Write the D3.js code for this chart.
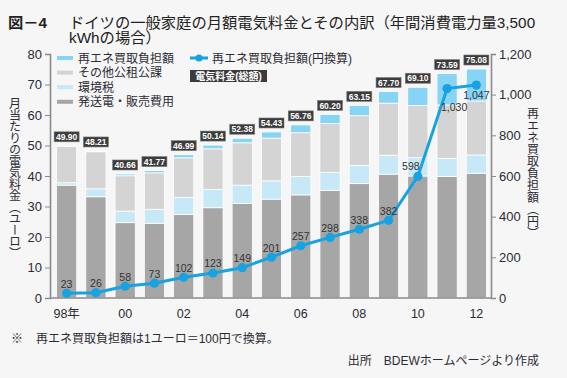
<!DOCTYPE html>
<html><head><meta charset="utf-8">
<script src="https://cdn.jsdelivr.net/npm/d3@7"></script>
<style>
html,body{margin:0;padding:0;background:#f6f6f6;}
svg{display:block;}
text{font-family:"Liberation Sans","Noto Sans CJK JP",sans-serif;}
</style>
</head><body>
<svg id="chart" width="567" height="378"></svg>
<script>
// ---------------- data ----------------
const years = ["98","99","00","01","02","03","04","05","06","07","08","09","10","11","12"];
const xTickLabels = {"98":"98年","00":"00","02":"02","04":"04","06":"06","08":"08","10":"10","12":"12"};
const totals = [49.90,48.21,40.66,41.77,46.99,50.14,52.38,54.43,56.76,60.20,63.15,67.70,69.10,73.59,75.08];
const generation = [37.0,33.2,24.7,24.5,27.4,29.6,31.0,32.4,33.8,35.3,37.5,40.6,40.0,39.8,40.9];
const envTax = [0.8,2.6,3.8,4.6,5.6,6.0,6.0,6.0,6.0,5.9,6.0,6.2,6.0,6.0,6.0];
const otherLevies = [11.87,12.15,11.58,11.94,12.97,13.31,13.89,14.02,14.39,16.02,16.27,17.08,17.12,17.49,17.71];
const eegEuro = [0.23,0.26,0.58,0.73,1.02,1.23,1.49,2.01,2.57,2.98,3.38,3.82,5.98,10.30,10.47];
const eegYen = [23,26,58,73,102,123,149,201,257,298,338,382,598,1030,1047];
const leftTicks = [0,10,20,30,40,50,60,70,80];
const rightTicks = [0,200,400,600,800,1000,1200];
const seriesNames = {eeg:"再エネ買取負担額", other:"その他公租公課", env:"環境税", gen:"発送電・販売費用"};
const lineName = "再エネ買取負担額(円換算)";
const totalBadge = "電気料金(総額)";
const titleLine1 = "ドイツの一般家庭の月額電気料金とその内訳（年間消費電力量3,500";
const titleLine2 = "kWhの場合）";
const figNo = "図－4";
const leftTitle = "月当たりの電気料金（ユーロ）";
const rightTitle = "再エネ買取負担額（円）";
const note = "再エネ買取負担額は1ユーロ＝100円で換算。";
const source = "出所　BDEWホームページより作成";

// ---------------- setup ----------------
const colors = {gen:"#a6a6a6", env:"#c6e8f7", other:"#d4d4d4", eeg:"#88d4f5"};
const lineColor = "#17a2e2";
const textColor = "#2b2b33";
const svg = d3.select("#chart");
svg.append("rect").attr("width",567).attr("height",378).attr("fill","#f6f6f6");

const x = d3.scaleBand().domain(years).range([52,491]).paddingInner(0.31).paddingOuter(0.155);
const yL = d3.scaleLinear().domain([0,80]).range([298,54]);
const yR = d3.scaleLinear().domain([0,1200]).range([298,54]);

const rows = years.map((yr,i)=>({year:yr, gen:generation[i], env:envTax[i], other:otherLevies[i], eeg:eegEuro[i], total:totals[i], yen:eegYen[i]}));
const keys = ["gen","env","other","eeg"];
const stacked = d3.stack().keys(keys)(rows);

// bars
const g = svg.append("g");
stacked.forEach(layer=>{
  g.selectAll(null).data(layer).enter().append("rect")
    .attr("x", d=>x(d.data.year))
    .attr("width", x.bandwidth())
    .attr("y", d=>yL(d[1]))
    .attr("height", d=>Math.max(0, yL(d[0])-yL(d[1])))
    .attr("fill", colors[layer.key])
    .attr("stroke","#ffffff").attr("stroke-width",0.8);
});

// total badges
const badgeW = 25, badgeH = 10;
const badges = svg.append("g").selectAll(null).data(rows).enter().append("g")
  .attr("transform", d=>`translate(${x(d.year)+x.bandwidth()/2},${yL(d.total)-4})`);
badges.append("rect").attr("x",-badgeW/2).attr("y",-badgeH).attr("width",badgeW).attr("height",badgeH)
  .attr("fill","#3c3c3c").attr("stroke","#7a7a7a").attr("stroke-width",0.6);
badges.append("text").attr("text-anchor","middle").attr("y",-1.8)
  .attr("font-size",8.5).attr("font-weight","bold").attr("fill","#ffffff")
  .text(d=>d.total.toFixed(2));

// axes
const axL = svg.append("g").attr("transform","translate(50,0)")
  .call(d3.axisLeft(yL).tickValues(leftTicks).tickSize(5).tickPadding(3));
const axR = svg.append("g").attr("transform","translate(491,0)")
  .call(d3.axisRight(yR).tickValues(rightTicks).tickSize(5).tickPadding(3).tickFormat(d3.format(",")));
[axL,axR].forEach(a=>{
  a.select(".domain").attr("stroke","#8a8a8a").attr("stroke-width",1.6);
  a.selectAll(".tick line").attr("stroke","#8a8a8a").attr("stroke-width",1);
  a.selectAll(".tick text").attr("font-size",13).attr("fill",textColor);
});
svg.append("line").attr("x1",50).attr("x2",491).attr("y1",298).attr("y2",298)
  .attr("stroke","#8a8a8a").attr("stroke-width",1.4);
const axB = svg.append("g").attr("transform","translate(0,298)")
  .call(d3.axisBottom(x).tickValues(Object.keys(xTickLabels)).tickSize(0).tickPadding(11).tickFormat(d=>xTickLabels[d]));
axB.select(".domain").remove();
axB.selectAll(".tick text").attr("font-size",12.5).attr("fill",textColor);

// line
const lx = d=>x(d.year)+x.bandwidth()/2;
svg.append("path").datum(rows)
  .attr("d", d3.line().x(lx).y(d=>yR(d.yen)))
  .attr("fill","none").attr("stroke",lineColor).attr("stroke-width",3);
svg.append("g").selectAll(null).data(rows).enter().append("circle")
  .attr("cx",lx).attr("cy",d=>yR(d.yen)).attr("r",4.6).attr("fill",lineColor);
const labelOffset = {"10":[-7,-6],"11":[7,22],"12":[0,14]};
svg.append("g").selectAll(null).data(rows).enter().append("text")
  .attr("x",d=>lx(d)+(labelOffset[d.year]?labelOffset[d.year][0]:0))
  .attr("y",d=>yR(d.yen)+(labelOffset[d.year]?labelOffset[d.year][1]:-5.5))
  .attr("text-anchor","middle").attr("font-size",10.5).attr("fill","#333")
  .text(d=>d3.format(",")(d.yen));

// legend
const legend = svg.append("g");
const legItems = ["eeg","other","env","gen"];
legItems.forEach((k,i)=>{
  const yy = 58 + i*14.6;
  legend.append("rect").attr("x",57).attr("y",yy-2).attr("width",16).attr("height",4).attr("fill",colors[k]);
  legend.append("text").attr("x",78).attr("y",yy+4.5).attr("font-size",12).attr("fill",textColor).text(seriesNames[k]);
});
legend.append("line").attr("x1",190).attr("x2",208).attr("y1",58).attr("y2",58).attr("stroke",lineColor).attr("stroke-width",3);
legend.append("circle").attr("cx",199).attr("cy",58).attr("r",3.6).attr("fill",lineColor);
legend.append("text").attr("x",212).attr("y",62.5).attr("font-size",12).attr("fill",textColor).text(lineName);
legend.append("rect").attr("x",190).attr("y",70).attr("width",77).attr("height",12).attr("fill","#3c3c3c");
legend.append("text").attr("x",228.5).attr("y",79.5).attr("text-anchor","middle").attr("font-size",10)
  .attr("font-weight","bold").attr("fill","#fff").text(totalBadge);

// axis titles (vertical)
svg.append("text").attr("x",15).attr("y",178).attr("text-anchor","middle")
  .style("writing-mode","vertical-rl").style("font-size","12px").attr("fill",textColor)
  .style("font-family","'Noto Sans CJK JP', sans-serif").style("letter-spacing","-0.5px").text(leftTitle);
svg.append("text").attr("x",533).attr("y",173).attr("text-anchor","middle")
  .style("writing-mode","vertical-rl").style("font-size","12px").attr("fill",textColor)
  .style("font-family","'Noto Sans CJK JP', sans-serif").text(rightTitle);

// title
svg.append("text").attr("x",8).attr("y",27.5).attr("font-size",15.3).attr("font-weight","bold").attr("fill","#222").text(figNo);
svg.append("text").attr("x",69).attr("y",27.5).attr("font-size",15.3).attr("fill","#222").text(titleLine1);
svg.append("text").attr("x",69).attr("y",43).attr("font-size",15.3).attr("fill","#222").text(titleLine2);

// footer
svg.append("text").attr("x",11).attr("y",342.5).attr("font-size",12).attr("fill",textColor).text("※");
svg.append("text").attr("x",36).attr("y",342.5).attr("font-size",12).attr("fill",textColor).text(note);
svg.append("text").attr("x",539).attr("y",364.5).attr("text-anchor","end").attr("font-size",12).attr("fill",textColor).text(source);
</script>
</body></html>
